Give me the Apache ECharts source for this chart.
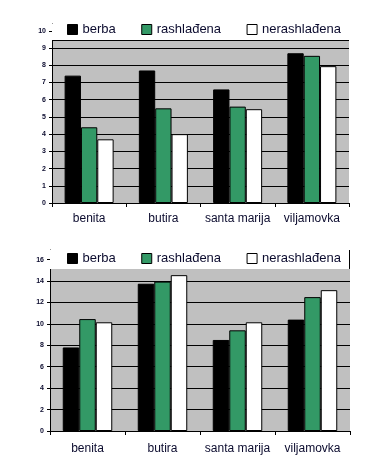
<!DOCTYPE html>
<html>
<head>
<meta charset="utf-8">
<script src="https://cdn.jsdelivr.net/npm/echarts@6/dist/echarts.min.js"></script>
<style>
html,body{margin:0;padding:0;background:#fff;}
#c{width:389px;height:467px;}
</style>
</head>
<body>
<div id="c"></div>
<script>
const categories = ['benita', 'butira', 'santa marija', 'viljamovka'];
const seriesNames = ['berba', 'rashlađena', 'nerashlađena'];
const seriesColors = ['#000000', '#339966', '#ffffff'];

const chart1Berba = [7.4, 7.7, 6.6, 8.7];
const chart1Rashladena = [4.4, 5.5, 5.6, 8.55];
const chart1Nerashladena = [3.7, 4.0, 5.45, 7.95];

const chart2Berba = [7.8, 13.75, 8.5, 10.4];
const chart2Rashladena = [10.45, 13.95, 9.4, 12.5];
const chart2Nerashladena = [10.15, 14.55, 10.15, 13.15];

const chart1Ticks = [0, 1, 2, 3, 4, 5, 6, 7, 8, 9, 10];
const chart2Ticks = [0, 2, 4, 6, 8, 10, 12, 14, 16];

const chart1LegendBottom = 9.44;
const chart2LegendBottom = 15.13;

const FONT = 'Liberation Sans, Arial, sans-serif';
const TXT = '#0b0b2e';

function yAxisCfg(gridIndex, max, interval, ticks) {
  return {
    type: 'value', gridIndex: gridIndex, min: 0, max: max, interval: interval,
    axisLine: {show: true, lineStyle: {color: '#000', width: 1}},
    axisTick: {show: true, length: 3, customValues: ticks, lineStyle: {color: '#000'}},
    axisLabel: {customValues: ticks, fontSize: 7, fontWeight: 'bold', fontFamily: FONT, color: TXT, margin: 6},
    splitLine: {show: true, lineStyle: {color: '#000', width: 1}}
  };
}
function xAxisCfg(gridIndex, margin) {
  return {
    type: 'category', gridIndex: gridIndex, data: categories,
    axisLine: {show: true, lineStyle: {color: '#000', width: 1}},
    axisTick: {show: true, length: 4, alignWithLabel: false, lineStyle: {color: '#000'}},
    axisLabel: {fontSize: 12, fontFamily: FONT, color: TXT, margin: margin, interval: 0}
  };
}
function barSeries(name, idx, data, gridIndex, extra) {
  const s = {
    name: name, type: 'bar', data: data,
    xAxisIndex: gridIndex, yAxisIndex: gridIndex,
    barGap: '0%', barCategoryGap: '34%',
    itemStyle: {color: seriesColors[idx], borderColor: '#000', borderWidth: 1},
    emphasis: {disabled: true},
    silent: true
  };
  return Object.assign(s, extra || {});
}
function legendCfg(top) {
  return {
    data: seriesNames, left: 62, top: top, itemGap: 25.5,
    itemWidth: 10, itemHeight: 10, icon: 'rect',
    itemStyle: {borderColor: '#000', borderWidth: 1},
    textStyle: {fontSize: 13, fontFamily: FONT, color: TXT},
    selectedMode: false
  };
}

const chart = echarts.init(document.getElementById('c'), null, {renderer: 'canvas'});
chart.setOption({
  animation: false,
  backgroundColor: '#fff',
  grid: [
    {left: 52, top: 24, width: 297, height: 179, show: true, backgroundColor: '#c0c0c0', borderWidth: 0, containLabel: false},
    {left: 50, top: 250, width: 300, height: 181, show: true, backgroundColor: '#c0c0c0', borderWidth: 0, containLabel: false}
  ],
  legend: [legendCfg(18), legendCfg(247)],
  xAxis: [xAxisCfg(0, 10), xAxisCfg(1, 12)],
  yAxis: [yAxisCfg(0, 10.4, 1, chart1Ticks), yAxisCfg(1, 16.9, 2, chart2Ticks)],
  series: [
    barSeries(seriesNames[0], 0, chart1Berba, 0, {
      markArea: {silent: true, itemStyle: {color: '#fff', borderWidth: 0}, label: {show: false},
        data: [[{yAxis: chart1LegendBottom}, {yAxis: 10.4}]]},
      markLine: {silent: true, symbol: 'none', label: {show: false},
        lineStyle: {color: '#000', type: 'solid', width: 1},
        data: [{yAxis: chart1LegendBottom}]}
    }),
    barSeries(seriesNames[1], 1, chart1Rashladena, 0),
    barSeries(seriesNames[2], 2, chart1Nerashladena, 0),
    barSeries(seriesNames[0], 0, chart2Berba, 1, {
      markArea: {silent: true, itemStyle: {color: '#fff', borderWidth: 0}, label: {show: false},
        data: [[{yAxis: chart2LegendBottom}, {yAxis: 16.9}]]}
    }),
    barSeries(seriesNames[1], 1, chart2Rashladena, 1),
    barSeries(seriesNames[2], 2, chart2Nerashladena, 1)
  ]
});

// right border of the second legend box
const yb = chart.convertToPixel({yAxisIndex: 1}, chart2LegendBottom);
const yt = chart.convertToPixel({yAxisIndex: 1}, 16.9);
chart.setOption({
  graphic: [{
    type: 'line', silent: true, z: 100,
    shape: {x1: 349.5, y1: yt, x2: 349.5, y2: yb},
    style: {stroke: '#000', lineWidth: 1}
  }]
});
</script>
</body>
</html>
